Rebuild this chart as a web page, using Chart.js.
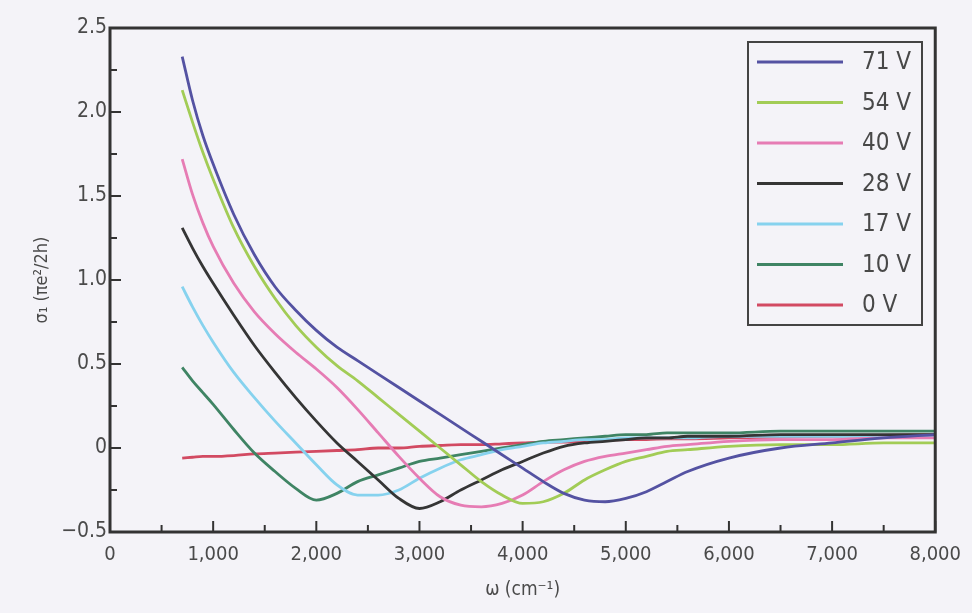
<!DOCTYPE html>
<html>
<head>
<meta charset="utf-8">
<script src="https://cdn.jsdelivr.net/npm/chart.js@4.4.1/dist/chart.umd.min.js"></script>
<style>
  html, body { margin: 0; padding: 0; background: #f4f3f8; }
  #wrap { width: 972px; height: 613px; }
</style>
</head>
<body>
<div id="wrap"><canvas id="grafico"></canvas></div>
<script>
// frecuencia (cm^-1), comun a todas las curvas
const omega = [700, 800, 900, 1000, 1200, 1400, 1600, 1800, 2000, 2200, 2400, 2600, 2800, 3000, 3200, 3400,
    3600, 3800, 4000, 4200, 4400, 4600, 4800, 5000, 5200, 5400, 5600, 6000, 6500, 7000, 7500, 8000];

const etiquetas = ["71 V", "54 V", "40 V", "28 V", "17 V", "10 V", "0 V"];

const v71 = [2.33, 2.07, 1.86, 1.69, 1.39, 1.15, 0.96, 0.82, 0.70, 0.60, 0.52, 0.44, 0.36, 0.28, 0.20, 0.12,
    0.04, -0.04, -0.12, -0.20, -0.27, -0.31, -0.32, -0.30, -0.26, -0.20, -0.14, -0.06, 0.00, 0.03, 0.06, 0.08];
const v54 = [2.13, 1.94, 1.76, 1.60, 1.31, 1.08, 0.89, 0.73, 0.60, 0.49, 0.40, 0.30, 0.20, 0.10, 0.00, -0.10,
    -0.20, -0.28, -0.33, -0.32, -0.27, -0.19, -0.13, -0.08, -0.05, -0.02, -0.01, 0.01, 0.02, 0.02, 0.03, 0.03];
const v40 = [1.72, 1.51, 1.34, 1.20, 0.98, 0.81, 0.68, 0.57, 0.47, 0.36, 0.23, 0.09, -0.05, -0.18, -0.29, -0.34,
    -0.35, -0.33, -0.28, -0.20, -0.13, -0.08, -0.05, -0.03, -0.01, 0.01, 0.02, 0.04, 0.05, 0.05, 0.06, 0.06];
const v28 = [1.31, 1.19, 1.08, 0.98, 0.79, 0.61, 0.45, 0.30, 0.16, 0.03, -0.08, -0.19, -0.30, -0.36, -0.32, -0.25,
    -0.19, -0.13, -0.08, -0.03, 0.01, 0.03, 0.04, 0.05, 0.06, 0.06, 0.07, 0.07, 0.08, 0.08, 0.08, 0.08];
const v17 = [0.96, 0.84, 0.73, 0.63, 0.45, 0.30, 0.16, 0.03, -0.10, -0.22, -0.28, -0.28, -0.25, -0.18, -0.12, -0.07,
    -0.04, -0.01, 0.01, 0.03, 0.04, 0.05, 0.05, 0.06, 0.06, 0.06, 0.06, 0.07, 0.07, 0.07, 0.07, 0.07];
const v10 = [0.48, 0.40, 0.33, 0.26, 0.11, -0.03, -0.14, -0.24, -0.31, -0.27, -0.20, -0.16, -0.12, -0.08, -0.06, -0.04,
    -0.02, 0.00, 0.02, 0.04, 0.05, 0.06, 0.07, 0.08, 0.08, 0.09, 0.09, 0.09, 0.10, 0.10, 0.10, 0.10];
const v0 = [-0.06, -0.055, -0.05, -0.05, -0.045, -0.035, -0.03, -0.025, -0.02, -0.015, -0.01, 0.00, 0.00, 0.01, 0.015, 0.02,
    0.02, 0.025, 0.03, 0.035, 0.035, 0.04, 0.045, 0.05, 0.05, 0.055, 0.055, 0.06, 0.065, 0.07, 0.075, 0.08];

const xTicks = [0, 1000, 2000, 3000, 4000, 5000, 6000, 7000, 8000];
const xMinor = [500, 1500, 2500, 3500, 4500, 5500, 6500, 7500];
const yTicks = [-0.5, 0, 0.5, 1.0, 1.5, 2.0, 2.5];
const yMinor = [-0.25, 0.25, 0.75, 1.25, 1.75, 2.25];

const series = [v71, v54, v40, v28, v17, v10, v0];
const colores = ["#5452a2", "#a2cc56", "#e67cb4", "#353535", "#86d2ee", "#3f8464", "#d24a62"];

const FUENTE = "'DejaVu Sans Condensed', 'Liberation Sans Narrow', sans-serif";

const marco = {
    id: "marco",
    beforeDraw(chart) {
        const c = chart.ctx;
        c.save();
        c.fillStyle = "#f4f3f8";
        c.fillRect(0, 0, chart.width, chart.height);
        c.restore();
    },
    afterDraw(chart) {
        const c = chart.ctx;
        const a = chart.chartArea;
        const x = chart.scales.x, y = chart.scales.y;
        c.save();
        c.strokeStyle = "#333";
        c.lineWidth = 2;
        // marcas hacia dentro
        const marca = (px, largo, vertical) => {
            c.beginPath();
            if (vertical) { c.moveTo(px, a.bottom); c.lineTo(px, a.bottom - largo); }
            else { c.moveTo(a.left, px); c.lineTo(a.left + largo, px); }
            c.stroke();
        };
        xTicks.forEach((v) => marca(x.getPixelForValue(v), 11, true));
        xMinor.forEach((v) => marca(x.getPixelForValue(v), 7, true));
        yTicks.forEach((v) => marca(y.getPixelForValue(v), 11, false));
        yMinor.forEach((v) => marca(y.getPixelForValue(v), 7, false));

        c.lineWidth = 3;
        c.strokeRect(a.left, a.top, a.right - a.left, a.bottom - a.top);

        // leyenda
        c.lineWidth = 2;
        c.strokeStyle = "#444";
        c.fillStyle = "#f4f3f8";
        c.fillRect(748, 42, 174, 283);
        c.strokeRect(748, 42, 174, 283);
        c.font = "24px " + FUENTE;
        c.textBaseline = "middle";
        c.textAlign = "left";
        chart.data.datasets.forEach((ds, i) => {
            const fy = 62 + i * 40.5;
            c.strokeStyle = ds.borderColor;
            c.lineWidth = 3;
            c.beginPath();
            c.moveTo(757, fy);
            c.lineTo(843, fy);
            c.stroke();
            c.fillStyle = "#484848";
            c.fillText(ds.label, 862, fy + 1);
        });
        c.restore();
    },
};

new Chart(document.getElementById("grafico"), {
    type: "line",
    data: {
        datasets: series.map((vals, i) => ({
            label: etiquetas[i],
            data: vals.map((v, k) => ({ x: omega[k], y: v })),
            borderColor: colores[i],
            borderWidth: 2.8,
            pointRadius: 0,
            cubicInterpolationMode: "monotone",
            fill: false,
        })),
    },
    options: {
        responsive: true,
        maintainAspectRatio: false,
        animation: false,
        layout: { padding: { top: 28, right: 35, left: 0, bottom: 0 } },
        plugins: { legend: { display: false }, tooltip: { enabled: false } },
        scales: {
            x: {
                type: "linear",
                min: 0,
                max: 8000,
                afterFit: (s) => { s.height = 81; },
                afterBuildTicks: (s) => { s.ticks = xTicks.map((v) => ({ value: v })); },
                grid: { display: false, drawTicks: false },
                border: { display: false },
                ticks: {
                    padding: 11,
                    color: "#4a4a4a",
                    font: { family: FUENTE, size: 20 },
                    maxRotation: 0,
                    callback: (v) => (v === 0 ? "0" : v.toLocaleString("en-US")),
                },
                title: {
                    display: true,
                    text: "ω (cm⁻¹)",
                    color: "#4a4a4a",
                    font: { family: FUENTE, size: 19 },
                    padding: { top: 0, bottom: 12 },
                },
            },
            y: {
                min: -0.5,
                max: 2.5,
                afterFit: (s) => { s.width = 110; },
                afterBuildTicks: (s) => { s.ticks = yTicks.map((v) => ({ value: v })); },
                grid: { display: false, drawTicks: false },
                border: { display: false },
                ticks: {
                    padding: 3,
                    color: "#4a4a4a",
                    font: { family: FUENTE, size: 21 },
                    callback: (v) => (v === 0 ? "0" : (v < 0 ? "−" : "") + Math.abs(v).toFixed(1)),
                },
                title: {
                    display: true,
                    text: "σ₁ (πe²/2h)",
                    color: "#4a4a4a",
                    font: { family: FUENTE, size: 18 },
                    padding: { top: 32, bottom: 0 },
                },
            },
        },
    },
    plugins: [marco],
});
</script>
</body>
</html>
